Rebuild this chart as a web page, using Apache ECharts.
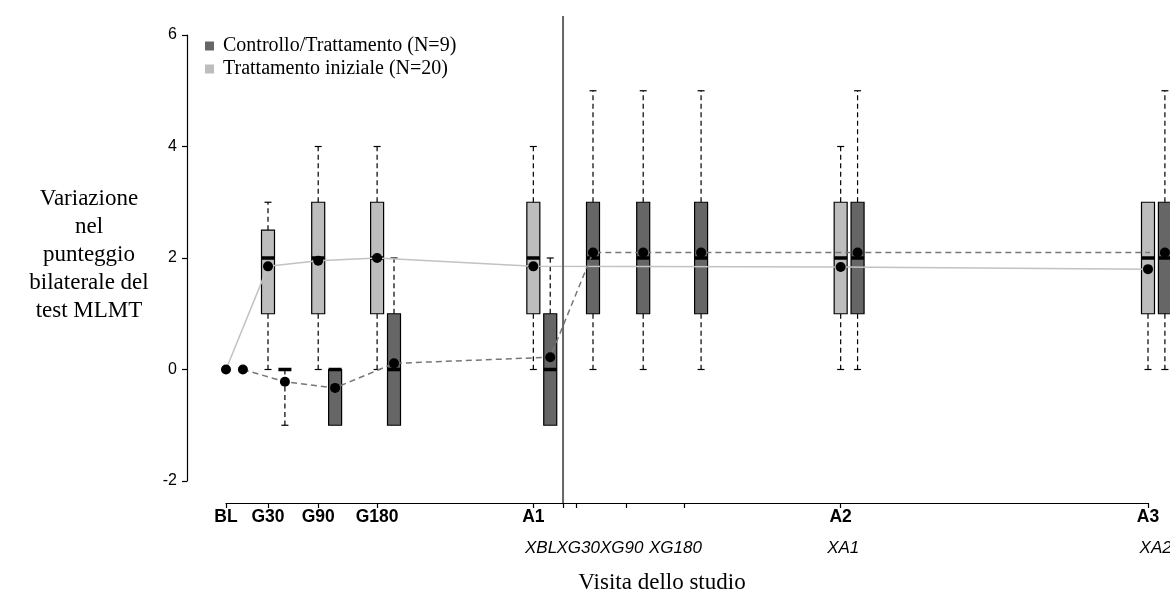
<!DOCTYPE html>
<html><head><meta charset="utf-8">
<script src="https://cdn.jsdelivr.net/npm/echarts@6/dist/echarts.min.js"></script>
<style>html,body{margin:0;padding:0;background:#fff}#chart{width:1170px;height:601px}</style>
</head><body><div id="chart"></div>
<script>
// ---- data ----
const visitLabels = ['BL', 'G30', 'G90', 'G180', 'A1', 'A2', 'A3'];
const visitPos = [0, 1.64, 3.6, 5.9, 12, 24, 36];
const crossLabels = ['XBL', 'XG30', 'XG90', 'XG180', 'XA1', 'XA2'];
const crossPos = [13.16, 13.67, 15.63, 17.89, 24, 36];
const crossLabelPos = [12.3, 13.75, 15.45, 17.55, 24.1, 36.3];
const tickPos = [0, 1.64, 3.6, 5.9, 12, 13.16, 13.67, 15.63, 17.89, 24, 36];
const yTicks = [-2, 0, 2, 4, 6];

// Trattamento iniziale (N=20)
const initBoxPos = [1.64, 3.6, 5.9, 12, 24, 36];
const initMin = [0, 0, 0, 0, 0, 0];
const initQ1 = [1, 1, 1, 1, 1, 1];
const initMed = [2, 2, 2, 2, 2, 2];
const initQ3 = [2.5, 3, 3, 3, 3, 3];
const initMax = [3, 4, 4, 4, 4, 3];
const initMeanPos = [0, 1.64, 3.6, 5.9, 12, 24, 36];
const initMean = [0, 1.85, 1.95, 2.0, 1.85, 1.84, 1.8];

// Controllo/Trattamento (N=9)
const ctrlBoxPos = [1.64, 3.6, 5.9, 12, 13.67, 15.63, 17.89, 24, 36];
const ctrlMin = [-1, -1, -1, -1, 0, 0, 0, 0, 0];
const ctrlQ1 = [0, -1, -1, -1, 1, 1, 1, 1, 1];
const ctrlMed = [0, 0, 0, 0, 2, 2, 2, 2, 2];
const ctrlQ3 = [0, 0, 1, 1, 3, 3, 3, 3, 3];
const ctrlMax = [0, 0, 2, 2, 5, 5, 5, 5, 5];
const ctrlMeanPos = [0, 1.64, 3.6, 5.9, 12, 13.67, 15.63, 17.89, 24, 36];
const ctrlMean = [0, -0.22, -0.33, 0.11, 0.22, 2.1, 2.1, 2.1, 2.1, 2.1];

const DODGE = 0.66; // side-by-side offset of control group
const NAME_CTRL = 'Controllo/Trattamento (N=9)';
const NAME_INIT = 'Trattamento iniziale (N=20)';
const C_DARK = '#666666', C_LIGHT = '#bdbdbd';

function boxData(pos, mn, q1, md, q3, mx, shift) {
  return pos.map((p, i) => [p + shift, mn[i], q1[i], md[i], q3[i], mx[i]]);
}

function boxRender(fill) {
  return function (params, api) {
    const x = api.value(0);
    const c = v => api.coord([x, v]);
    const cx = c(0)[0];
    const yMin = c(api.value(1))[1], yQ1 = c(api.value(2))[1], yMed = c(api.value(3))[1],
      yQ3 = c(api.value(4))[1], yMax = c(api.value(5))[1];
    const hw = 6.5, cap = 3.5;
    const ch = [];
    const wl = { stroke: '#000', lineWidth: 1.2, lineDash: [5, 3.5] };
    const cl = { stroke: '#000', lineWidth: 1.2 };
    if (yQ3 - yMax > 0.5) {
      ch.push({ type: 'line', shape: { x1: cx, y1: yQ3, x2: cx, y2: yMax }, style: wl });
      ch.push({ type: 'line', shape: { x1: cx - cap, y1: yMax, x2: cx + cap, y2: yMax }, style: cl });
    }
    if (yMin - yQ1 > 0.5) {
      ch.push({ type: 'line', shape: { x1: cx, y1: yQ1, x2: cx, y2: yMin }, style: wl });
      ch.push({ type: 'line', shape: { x1: cx - cap, y1: yMin, x2: cx + cap, y2: yMin }, style: cl });
    }
    if (yQ1 - yQ3 > 0.5) {
      ch.push({ type: 'rect', shape: { x: cx - hw, y: yQ3, width: hw * 2, height: yQ1 - yQ3 },
        style: { fill: fill, stroke: '#000', lineWidth: 1.2 } });
    }
    ch.push({ type: 'line', shape: { x1: cx - hw, y1: yMed, x2: cx + hw, y2: yMed },
      style: { stroke: '#000', lineWidth: 3.5 } });
    return { type: 'group', children: ch };
  };
}

const chart = echarts.init(document.getElementById('chart'));
const GRID = { left: 226, right: 22, top: 35, bottom: 120 };
const X_OFFSET = 22, Y_OFFSET = 39;
const labelFor = (vals, labels) => v => {
  const i = vals.findIndex(p => Math.abs(p - v) < 1e-6);
  return i >= 0 ? labels[i] : '';
};

chart.setOption({
  backgroundColor: '#fff',
  animation: false,
  grid: GRID,
  legend: {
    orient: 'vertical', left: 200, top: 31, itemGap: 3,
    itemWidth: 9, itemHeight: 9, icon: 'rect',
    data: [NAME_CTRL, NAME_INIT],
    textStyle: { fontFamily: 'Liberation Serif', fontSize: 20, color: '#000', padding: [0, 0, 0, 4] },
    itemStyle: { borderWidth: 0 }
  },
  xAxis: {
    type: 'value', min: 0, max: 36, offset: X_OFFSET,
    axisLine: { show: true, onZero: false, lineStyle: { color: '#000', width: 1.2 } },
    axisTick: { show: true, customValues: tickPos, length: 5, lineStyle: { color: '#000', width: 1.2 } },
    axisLabel: { customValues: visitPos, formatter: labelFor(visitPos, visitLabels), margin: 5,
      fontFamily: 'Liberation Sans', fontWeight: 'bold', fontSize: 17.5, color: '#000' },
    splitLine: { show: false }
  },
  yAxis: {
    type: 'value', min: -2, max: 6, interval: 2, offset: Y_OFFSET,
    axisLine: { show: true, onZero: false, lineStyle: { color: '#000', width: 1.2 } },
    axisTick: { show: true, length: 5, lineStyle: { color: '#000', width: 1.2 } },
    axisLabel: { customValues: yTicks, margin: 10, fontFamily: 'Liberation Sans', fontSize: 16, color: '#000' },
    splitLine: { show: false }
  },
  series: [
    {
      name: NAME_INIT, type: 'custom', renderItem: boxRender(C_LIGHT), itemStyle: { color: C_LIGHT },
      data: boxData(initBoxPos, initMin, initQ1, initMed, initQ3, initMax, 0), z: 2, clip: false
    },
    {
      name: NAME_CTRL, type: 'custom', renderItem: boxRender(C_DARK), itemStyle: { color: C_DARK },
      data: boxData(ctrlBoxPos, ctrlMin, ctrlQ1, ctrlMed, ctrlQ3, ctrlMax, DODGE), z: 2, clip: false
    },
    {
      type: 'line', data: initMeanPos.map((p, i) => [p, initMean[i]]), symbol: 'none', clip: false,
      lineStyle: { color: '#c2c2c2', width: 1.5 }, z: 3, silent: true
    },
    {
      type: 'line', data: ctrlMeanPos.map((p, i) => [p + DODGE, ctrlMean[i]]), symbol: 'none', clip: false,
      lineStyle: { color: '#777', width: 1.5, type: [6, 4] }, z: 3, silent: true
    },
    {
      type: 'scatter', data: initMeanPos.map((p, i) => [p, initMean[i]]), symbol: 'circle', symbolSize: 10,
      itemStyle: { color: '#000', opacity: 1 }, z: 5, clip: false, silent: true
    },
    {
      type: 'scatter', data: ctrlMeanPos.map((p, i) => [p + DODGE, ctrlMean[i]]), symbol: 'circle', symbolSize: 10,
      itemStyle: { color: '#000', opacity: 1 }, z: 5, clip: false, silent: true
    }
  ]
});

// crossover divider, second label row and titles
const divX = chart.convertToPixel({ xAxisIndex: 0 }, crossPos[0]);
const axisY = 601 - GRID.bottom + X_OFFSET;
const crossTexts = crossLabels.map((t, i) => ({
  type: 'text', x: chart.convertToPixel({ xAxisIndex: 0 }, crossLabelPos[i]), y: axisY + 45,
  style: { text: t, align: 'center', verticalAlign: 'middle', fontFamily: 'Liberation Sans',
    fontStyle: 'italic', fontSize: 17, fill: '#000' }
}));
chart.setOption({
  graphic: [
    { type: 'line', shape: { x1: divX, y1: 16, x2: divX, y2: axisY },
      style: { stroke: '#666', lineWidth: 2 }, z: 10 },
    ...crossTexts,
    { type: 'text', x: 89, y: 255, style: {
      text: 'Variazione\nnel\npunteggio\nbilaterale del\ntest MLMT', align: 'center', verticalAlign: 'middle',
      fontFamily: 'Liberation Serif', fontSize: 23, lineHeight: 28, fill: '#000' } },
    { type: 'text', x: 662, y: 583, style: {
      text: 'Visita dello studio', align: 'center', verticalAlign: 'middle',
      fontFamily: 'Liberation Serif', fontSize: 23, fill: '#000' } }
  ]
});
</script></body></html>
